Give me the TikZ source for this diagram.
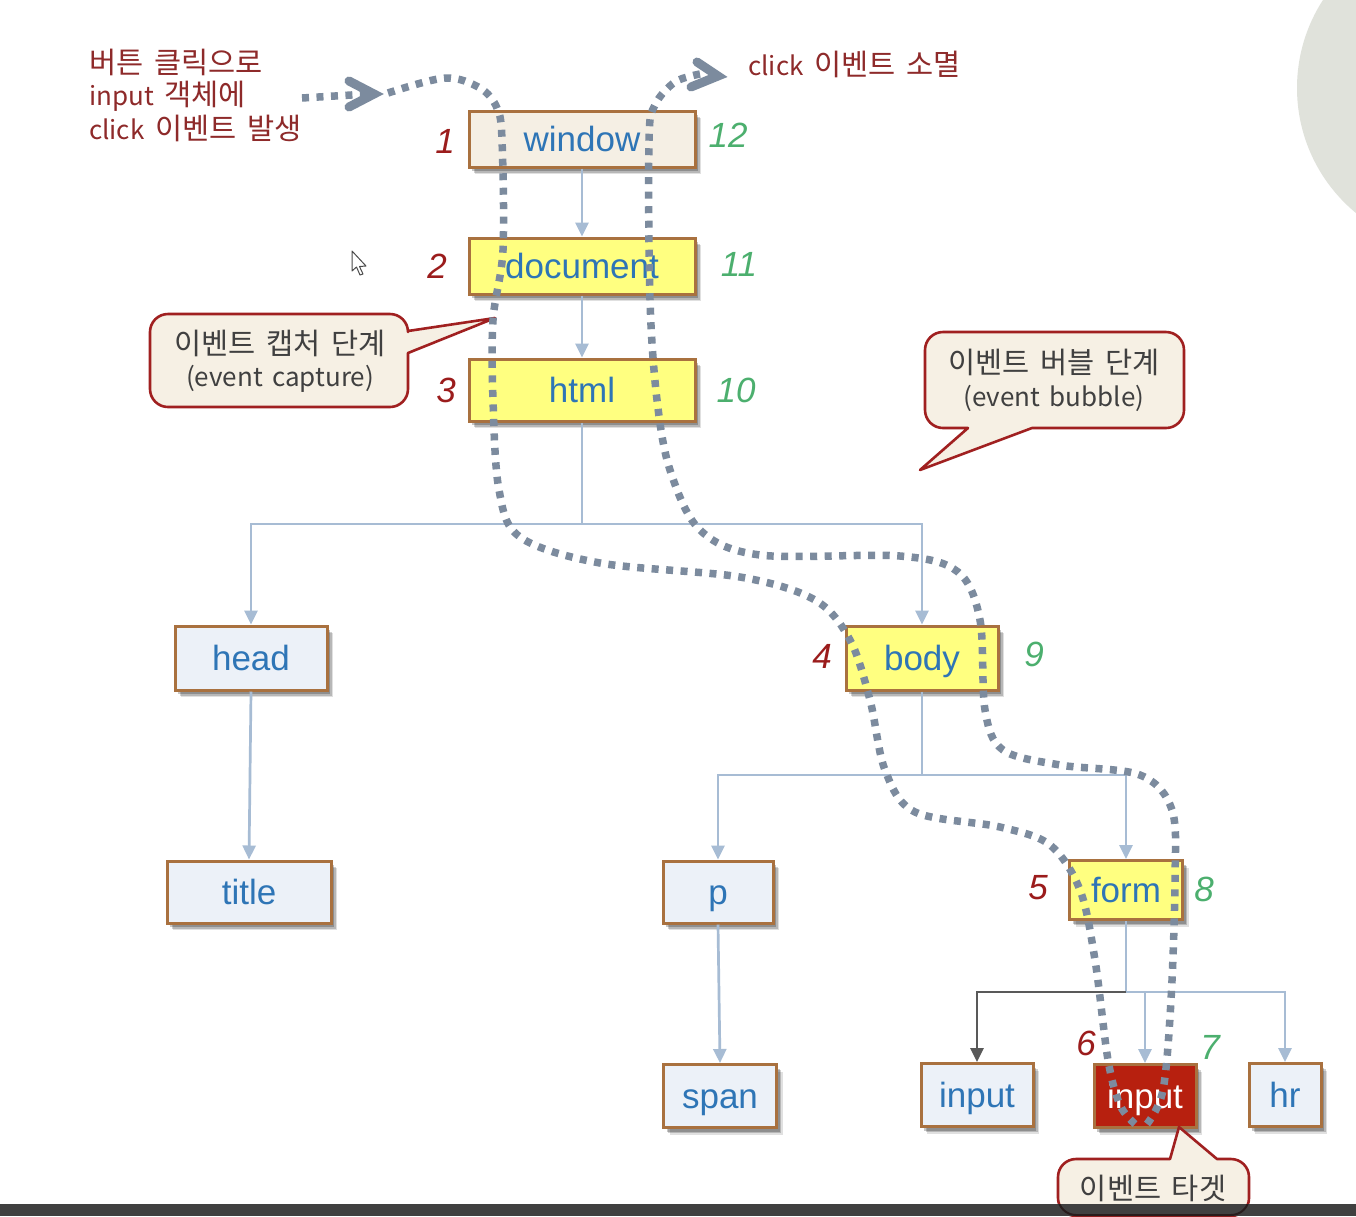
\documentclass[tikz,border=0pt]{standalone}
\usepackage{fontspec}
\setmainfont{Liberation Sans}
\newfontfamily\krfont[WordSpace=1.6]{Noto Sans CJK KR}
\usetikzlibrary{arrows.meta,shadows,calc}
\definecolor{boxedge}{HTML}{A9713F}
\definecolor{boxpale}{HTML}{ECF1F8}
\definecolor{boxyellow}{HTML}{FFFF80}
\definecolor{boxbeige}{HTML}{F5EFE4}
\definecolor{boxred}{HTML}{B7200F}
\definecolor{labblue}{HTML}{2E75B6}
\definecolor{treeline}{HTML}{A7BCD4}
\definecolor{treedark}{HTML}{595959}
\definecolor{flow}{HTML}{7C8B9E}
\definecolor{numred}{HTML}{9B1C1C}
\definecolor{numgreen}{HTML}{4CAF6E}
\definecolor{noteedge}{HTML}{A02020}
\definecolor{notefill}{HTML}{F6F0E4}
\definecolor{txtred}{HTML}{8E2A2A}
\newcommand{\lat}[1]{{\fontsize{26}{26}\selectfont #1}}
\tikzset{
  softshade/.style={
    drop shadow={shadow xshift=6pt,shadow yshift=-7pt,opacity=.12,fill=black},
    drop shadow={shadow xshift=4.5pt,shadow yshift=-5.5pt,opacity=.18,fill=black},
    drop shadow={shadow xshift=3pt,shadow yshift=-4pt,opacity=.22,fill=black}},
  treebox/.style={draw=boxedge,line width=3pt,fill=boxpale,inner sep=0pt,
    font=\fontsize{35}{35}\selectfont,text=labblue,text height=28pt,text depth=3pt,softshade},
  yellowbox/.style={treebox,fill=boxyellow},
  beigebox/.style={treebox,fill=boxbeige},
  redbox/.style={treebox,fill=boxred,text=white},
  numc/.style={font=\fontsize{35}{35}\selectfont\itshape,text=numred,inner sep=0pt},
  numb/.style={font=\fontsize{35}{35}\selectfont\itshape,text=numgreen,inner sep=0pt},
  treearrow/.style={draw=treeline,line width=2.7pt,-{Triangle[width=13pt,length=14pt]}},
  treeplain/.style={draw=treeline,line width=2.7pt},
  flowline/.style={draw=flow,line width=7.5pt,dash pattern=on 7pt off 7.5pt},
  chevron/.style={draw=flow,line width=9pt,line cap=round,line join=miter},
  note/.style={draw=noteedge,line width=2.6pt,fill=notefill,line join=round},
  notetext/.style={font=\krfont\fontsize{29.5}{30}\selectfont,text=black!75,inner sep=0pt},
  redtext/.style={font=\krfont\fontsize{29.5}{30}\selectfont,text=txtred,inner sep=0pt,anchor=west},
}
\begin{document}
\begin{tikzpicture}[x=1pt,y=-1pt]
\useasboundingbox (0,0) rectangle (1356,1216);
\clip (0,0) rectangle (1356,1216);
\fill[white] (0,0) rectangle (1356,1216);
% sphere
\fill[color={rgb,255:red,224;green,226;blue,219}] (1459,88) circle[radius=162pt];

% boxes
\node[beigebox,minimum width=226pt,minimum height=56pt] (window) at (582,139) {window};
\node[yellowbox,minimum width=226pt,minimum height=56pt] (document) at (582,266) {document};
\node[yellowbox,minimum width=226pt,minimum height=62pt] (html) at (582,390) {html};
\node[treebox,minimum width=152pt,minimum height=64pt] (head) at (251,658) {head};
\node[yellowbox,minimum width=152pt,minimum height=64pt] (body) at (922,658) {body};
\node[treebox,minimum width=164pt,minimum height=62pt] (title) at (249,892) {title};
\node[treebox,minimum width=110pt,minimum height=62pt] (p) at (718,892) {p};
\node[yellowbox,minimum width=113pt,minimum height=59pt] (form) at (1126,890) {form};
\node[treebox,minimum width=113pt,minimum height=63pt] (span) at (720,1096) {span};
\node[treebox,minimum width=112pt,minimum height=63pt] (input1) at (977,1095) {input};
\node[redbox,minimum width=102pt,minimum height=63pt] (input2) at (1145,1096) {input};
\node[treebox,minimum width=72pt,minimum height=63pt] (hr) at (1285,1095) {hr};

% tree connectors
\coordinate (j1) at (582,524);
\coordinate (j2) at (922,775);
\coordinate (j3) at (1126,992);
\draw[treearrow] (window.south) -- (document.north);
\draw[treearrow] (document.south) -- (html.north);
\draw[treeplain] (html.south) -- (j1);
\draw[treearrow] (j1) -| (head.north);
\draw[treearrow] (j1) -| (body.north);
\draw[treearrow] (head.south) -- (title.north);
\draw[treeplain] (body.south) -- (j2);
\draw[treearrow] (j2) -| (p.north);
\draw[treearrow] (j2) -| (form.north);
\draw[treearrow] (p.south) -- (span.north);
\draw[treeplain] (form.south) -- (j3);
\draw[treearrow] (j3) -| (hr.north);
\draw[treearrow] (j3) -| (input2.north);
\draw[draw=treedark,line width=2.7pt,-{Triangle[width=13pt,length=14pt]}] (j3) -| (input1.north);

% numbers
\node[numc] (n1) at (445,141) {1};
\node[numc] (n2) at (437,266) {2};
\node[numc] (n3) at (446,390) {3};
\node[numc] (n4) at (822,656) {4};
\node[numc] (n5) at (1038,888) {5};
\node[numc] (n6) at (1086,1043) {6};
\node[numb] (n7) at (1210,1047) {7};
\node[numb] (n8) at (1204,889) {8};
\node[numb] (n9) at (1034,654) {9};
\node[numb] (n10) at (736,390) {10};
\node[numb] (n11) at (739,264) {11};
\node[numb] (n12) at (728,135) {12};

% callouts
\draw[note] (408,331) -- (495,318) -- (408,353)
  [rounded corners=18pt] -- (408,407) -- (150,407) -- (150,314) -- (408,314) [sharp corners] -- cycle;
\draw[note] (968,428) -- (920,470) -- (1032,428)
  [rounded corners=18pt] -- (1184,428) -- (1184,332) -- (925,332) -- (925,428) [sharp corners] -- cycle;
\draw[note] (1170,1159) -- (1179,1127) -- (1217,1159)
  [rounded corners=18pt] -- (1249,1159) -- (1249,1216) -- (1058,1216) -- (1058,1159) [sharp corners] -- cycle;
\node[notetext] (capA) at (280,343) {이벤트 캡처 단계};
\node[notetext,font=\krfont\fontsize{26}{26}\selectfont] (capB) at (280,379) {(event capture)};
\node[notetext] (bubA) at (1054,362) {이벤트 버블 단계};
\node[notetext,font=\krfont\fontsize{26}{26}\selectfont] (bubB) at (1054,398) {(event bubble)};
\node[notetext] (tgt) at (1153,1188) {이벤트 타겟};

% corner texts
\node[redtext] (t1) at (89,62) {버튼 클릭으로};
\node[redtext] (t2) at (89,96) {\lat{input} 객체에};
\node[redtext] (t3) at (89,128) {\lat{click} 이벤트 발생};
\node[redtext] (t4) at (748,64) {\lat{click} 이벤트 소멸};

% event flow
\coordinate (capStart) at (302,98);
\coordinate (capTipIn) at (368,94);
\draw[flowline] (capStart) -- (capTipIn);
\draw[chevron] (349,81) -- (374,94) -- (349,107);
\draw[flowline] plot[smooth,tension=.55] coordinates {
 (388,93) (445,78) (480,88) (497,108) (502,140) (503,250) (493,320) (493,400) (499,490)
 (520,537) (600,563) (740,577) (815,600) (850,640) (870,700) (885,770) (915,812)
 (1000,827) (1050,845) (1080,890) (1095,960) (1108,1060) (1120,1105) (1135,1124)};
\draw[flowline] plot[smooth,tension=.55] coordinates {
 (1147,1124) (1163,1090) (1171,1000) (1175,880) (1172,810) (1140,775) (1060,765)
 (1003,750) (985,710) (980,620) (958,572) (900,556) (760,555) (700,530) (670,470)
 (657,400) (650,300) (649,140) (655,105) (675,82) (700,74)};
\draw[chevron] (697,62) -- (718,76) -- (691,87);

% cursor
\draw[draw=black!70,fill=white,line width=1pt,line join=round]
 (352,251) -- (352,271) -- (356.5,267) -- (360,275) -- (363,274) -- (359.5,266.5) -- (366,266) -- cycle;

% bottom bar
\fill[color={rgb,255:red,64;green,64;blue,64}] (0,1204) rectangle (1356,1216);
\begin{scope}
\clip (0,1204) rectangle (1356,1216);
\draw[color={rgb,255:red,40;green,28;blue,28},line width=2pt,rounded corners=18pt]
  (1249,1180) -- (1249,1215) -- (1058,1215) -- (1058,1180);
\end{scope}
\end{tikzpicture}
\end{document}
